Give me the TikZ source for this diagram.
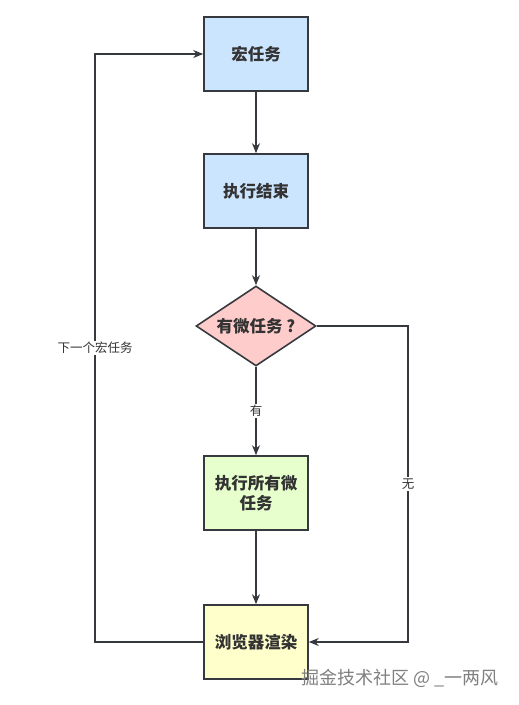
\documentclass[tikz,border=0pt]{standalone}
\usepackage{fontspec}
\setmainfont{Noto Sans CJK SC}
\newfontfamily\cjk{Noto Sans CJK SC}
\usetikzlibrary{shapes.geometric,arrows.meta}
\definecolor{lineC}{HTML}{36393D}
\definecolor{blueF}{HTML}{CCE5FF}
\definecolor{pinkF}{HTML}{FFCCCC}
\definecolor{greenF}{HTML}{E6FFCC}
\definecolor{yellowF}{HTML}{FFFFCC}
\definecolor{txtC}{HTML}{333333}
\tikzset{
  box/.style={draw=lineC, line width=1.6pt, minimum width=104pt, minimum height=74pt,
    text width=96pt, align=center, inner sep=0pt, font=\cjk\fontsize{16.5}{20.5}\selectfont\bfseries, text=txtC},
  dia/.style={draw=lineC, line width=1.6pt, diamond, minimum width=120pt, minimum height=80pt,
    inner sep=0pt, font=\cjk\fontsize{16.5}{20}\selectfont\bfseries, text=txtC},
  conn/.style={draw=lineC, line width=1.4pt, -{Stealth[length=10pt,width=8pt]}},
  elabel/.style={fill=white, inner sep=1.5pt, font=\cjk\fontsize{12.5}{14}\selectfont, text=txtC}
}
\begin{document}
\begin{tikzpicture}[x=1pt,y=-1pt]
\fill[white] (0,0) rectangle (519,705);
\useasboundingbox (0,0) rectangle (519,705);
\node[box, fill=blueF] (a) at (256,54) {宏任务};
\node[box, fill=blueF] (b) at (256,191) {执行结束};
\node[dia, fill=pinkF, aspect=1.5] (c) at (256,326) {有微任务 ?};
\node[box, fill=greenF] (d) at (256,493) {执行所有微\\任务};
\node[box, fill=yellowF] (e) at (256,642) {浏览器渲染};
\coordinate (lc1) at (95,642);
\coordinate (lc2) at (95,54);
\coordinate (rc1) at (408,326);
\coordinate (rc2) at (408,642);
\draw[conn] (a) -- (b);
\draw[conn] (b) -- (c);
\draw[conn] (c) -- node[elabel, pos=0.5] {有} (d);
\draw[conn] (d) -- (e);
\draw[conn] (e.west) -- (lc1) -- node[elabel, pos=0.5] {下一个宏任务} (lc2) -- (a.west);
\draw[conn] (c.east) -- (rc1) -- node[elabel, pos=0.5] {无} (rc2) -- (e.east);
\node[font=\cjk\fontsize{18}{21}\selectfont, text=black!50, anchor=east] (wm) at (502,678) {掘金技术社区 @ \_一两风};
\end{tikzpicture}
\end{document}
